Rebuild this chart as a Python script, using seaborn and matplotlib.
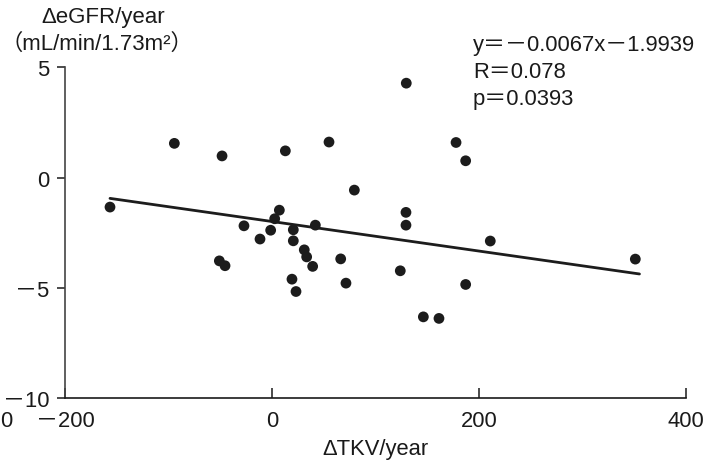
import matplotlib
matplotlib.use("Agg")
import matplotlib.pyplot as plt
import seaborn as sns
import numpy as np
import pandas as pd

# Data
tkv = [-156.5, -94.3, -48.2, -50.8, -45.3, -27.0, -11.5, -1.2, 2.7, 7.2,
       13.0, 20.7, 20.7, 19.4, 23.3, 31.3, 33.6, 39.4, 42.0, 55.2,
       66.5, 71.6, 79.7, 124.1, 129.6, 129.6, 129.9, 146.4, 161.5, 178.0,
       187.3, 187.3, 211.1, 351.3]
egfr = [-1.34, 1.55, 0.98, -3.78, -4.00, -2.19, -2.79, -2.39, -1.87, -1.48,
        1.21, -2.37, -2.87, -4.61, -5.17, -3.28, -3.60, -4.03, -2.16, 1.61,
        -3.69, -4.79, -0.57, -4.23, -1.58, -2.16, 4.28, -6.32, -6.39, 1.59,
        0.76, -4.85, -2.88, -3.70]
line_slope = -0.0067
line_intercept = -1.9939
x_ticks = [-200, 0, 200, 400]
x_tick_labels = ["\uff0d200", "0", "200", "400"]
y_ticks = [-10, -5, 0, 5]
y_tick_labels = ["\uff0d10", "\uff0d5", "0", "5"]
stats_lines = ["y\uff1d\uff0d0.0067x\uff0d1.9939", "R\uff1d0.078", "p\uff1d0.0393"]

sns.set_theme(style="white")
plt.rcParams["font.family"] = ["Liberation Sans", "Noto Sans CJK JP", "DejaVu Sans"]

FS = 15.8
W, H = 723, 464
fig = plt.figure(figsize=(W / 100, H / 100), dpi=100)
ax = fig.add_axes([65 / W, (H - 399) / H, (685.7 - 65) / W, (399 - 68.3) / H])

df = pd.DataFrame({"tkv": tkv, "egfr": egfr})
sns.scatterplot(data=df, x="tkv", y="egfr", ax=ax, s=60, color="#1c1c1c",
                edgecolor="none", zorder=3, clip_on=False)

xs = np.array([min(tkv), max(tkv) + 4])
line_df = pd.DataFrame({"x": xs, "y": line_slope * xs + line_intercept})
sns.lineplot(data=line_df, x="x", y="y", ax=ax, color="#1c1c1c", lw=2.0, zorder=2)

ax.set_xlim(-200, 400)
ax.set_ylim(-10, 5)
ax.set_xticks(x_ticks)
ax.set_xticklabels(x_tick_labels)
ax.set_yticks(y_ticks)
ax.set_yticklabels(y_tick_labels)
ax.set_xlabel("\u0394TKV/year", fontsize=FS, labelpad=5, color="#1a1a1a")
ax.set_ylabel("")

for s in ["top", "right"]:
    ax.spines[s].set_visible(False)
ax.spines["left"].set_color("#444444")
ax.spines["bottom"].set_color("#1a1a1a")
ax.spines["left"].set_linewidth(1.2)
ax.spines["bottom"].set_linewidth(1.2)

ax.tick_params(axis="x", direction="in", length=7, width=1.1, color="#1a1a1a",
               labelsize=FS, labelcolor="#1a1a1a", pad=9, bottom=True)
ax.tick_params(axis="y", direction="out", length=6, width=1.1, color="#1a1a1a",
               labelsize=FS, labelcolor="#1a1a1a", pad=5, left=True)

fig.text(103 / W, 1 - 17 / H, "\u0394eGFR/year", ha="center", va="center",
         fontsize=16, color="#1a1a1a")
fig.text(97 / W, 1 - 44 / H, "\uff08mL/min/1.73m\u00b2\uff09", ha="center", va="center",
         fontsize=16, color="#1a1a1a")

for i, t in enumerate(stats_lines):
    fig.text(473 / W, 1 - (46 + 26.5 * i) / H, t, ha="left", va="center",
             fontsize=FS, color="#1a1a1a")

# stray label at the lower left edge of the reference
fig.text(0, 1 - 422 / H, "0", ha="left", va="center", fontsize=FS, color="#1a1a1a")

fig.savefig("out.png", dpi=100)
